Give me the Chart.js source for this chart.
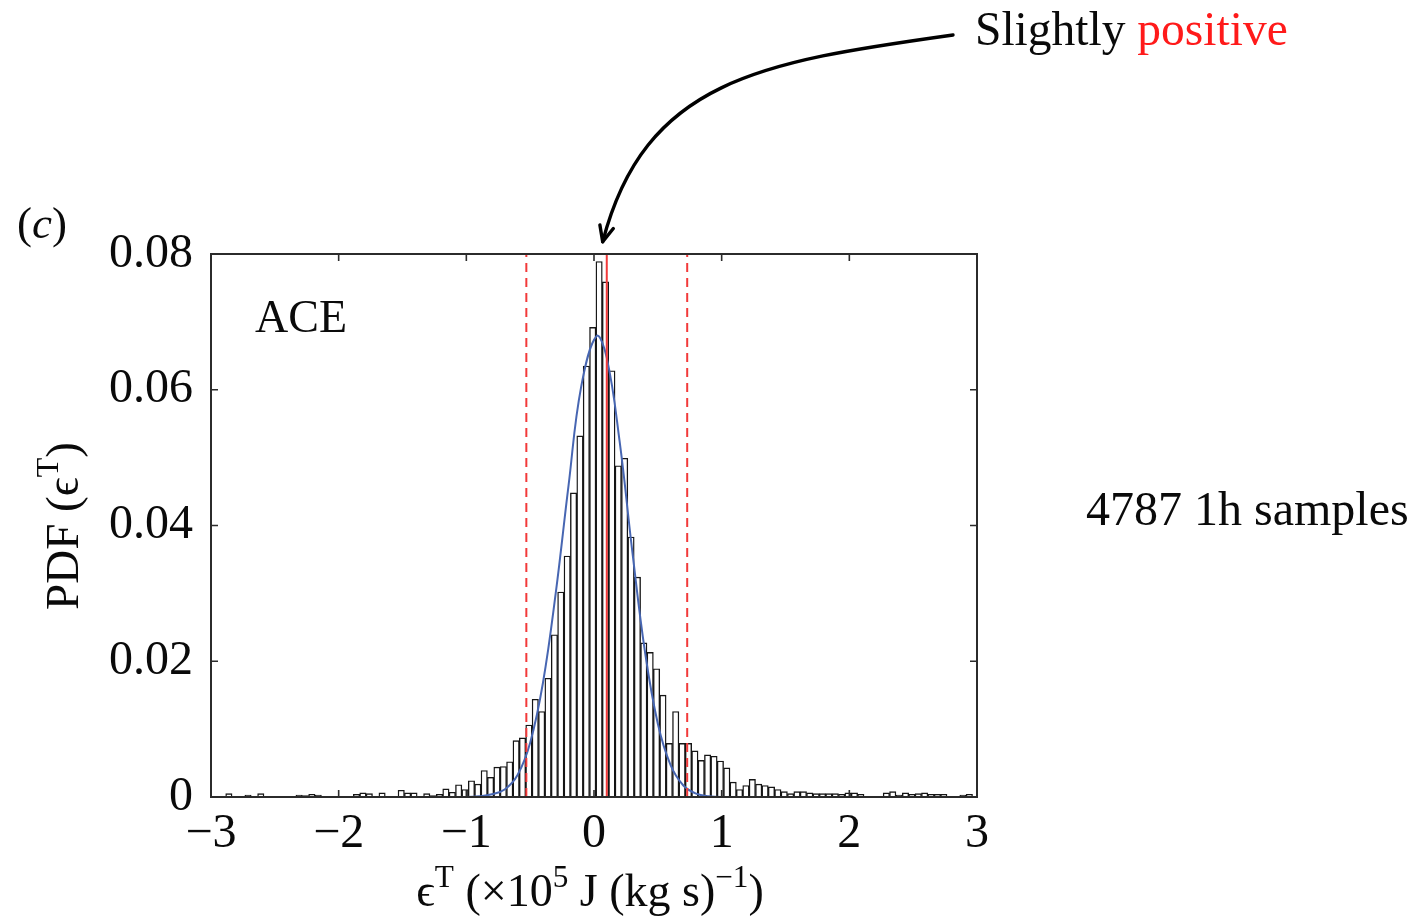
<!DOCTYPE html>
<html><head><meta charset="utf-8">
<script src="https://cdn.jsdelivr.net/npm/chart.js@4.4.1/dist/chart.umd.min.js"></script>
<style>html,body{margin:0;padding:0;background:#fff;} #wrap{width:1421px;height:921px;}</style>
</head><body><div id="wrap"><canvas id="c" width="1421" height="921"></canvas></div>
<script>
// ---- data ----
const binStart = -2.985;   // left edge of first histogram bin
const binWidth = 0.05;     // histogram bin width
const pdfValues = [
  0, 0, 0.0005, 0, 0, 0.0003, 0, 0.0005, 0, 0,
  0, 0, 0, 0.0003, 0.0002, 0.0004, 0.0003, 0, 0, 0.0001,
  0, 0, 0.0004, 0.0006, 0.0005, 0, 0.0006, 0, 0, 0.0010,
  0.0006, 0.0006, 0, 0.0005, 0.0002, 0.0004, 0.0012, 0.0007, 0.0018, 0.0011,
  0.0024, 0.0019, 0.0039, 0.0029, 0.0044, 0.0045, 0.0052, 0.0083, 0.0087, 0.0106,
  0.0144, 0.0126, 0.0175, 0.0239, 0.0302, 0.0355, 0.0448, 0.0532, 0.0635, 0.0692,
  0.0789, 0.0759, 0.0628, 0.0488, 0.0499, 0.0383, 0.0324, 0.0227, 0.0213, 0.0189,
  0.0150, 0.0079, 0.0126, 0.0079, 0.0079, 0.0068, 0.0054, 0.0062, 0.0060, 0.0053,
  0.0043, 0.0022, 0.0011, 0.0017, 0.0026, 0.0019, 0.0017, 0.0015, 0.0011, 0.0008,
  0.0005, 0.0008, 0.0008, 0.0006, 0.0005, 0.0005, 0.0005, 0.0005, 0.0004, 0.0006,
  0.0006, 0.0004, 0, 0, 0, 0.0006, 0.0008, 0.0003, 0.0006, 0.0004,
  0.0005, 0.0006, 0.0004, 0.0004, 0.0004, 0, 0, 0.0003, 0.0004
];
const fitX = [-3, -1, -0.9, -0.8, -0.7, -0.6, -0.5, -0.4, -0.3, -0.2, -0.1, 0.02, 0.1, 0.2, 0.3, 0.4, 0.5, 0.6, 0.7, 0.8, 0.9, 1.0, 3];
const fitY = [0, 0, 0.0001, 0.0004, 0.0011, 0.0032, 0.0080, 0.0168, 0.0300, 0.0458, 0.0605, 0.0679, 0.0647, 0.0525, 0.0362, 0.0213, 0.0108, 0.0047, 0.0017, 0.0005, 0.0001, 0, 0];
const meanValue = 0.1;
const bandValues = [-0.53, 0.73];
const xTickValues = [-3, -2, -1, 0, 1, 2, 3];
const xTickLabels = ['\u22123', '\u22122', '\u22121', '0', '1', '2', '3'];
const yTickValues = [0, 0.02, 0.04, 0.06, 0.08];
const yTickLabels = ['0', '0.02', '0.04', '0.06', '0.08'];
const yMin = 0, yMax = 0.08, xMin = -3, xMax = 3;

const FONT = '"Liberation Serif", "Times New Roman", "DejaVu Serif", serif';
const RED = '#f23a3a';
const BLUE = '#4766b2';
const INK = '#0a0a0a';

function drawRich(ctx, parts, x, y, size, align) {
  const items = parts.map(p => {
    const fs = p.sup ? size * 0.68 : size;
    const font = (p.italic ? 'italic ' : '') + fs + 'px ' + FONT;
    ctx.font = font;
    return { p, font, w: ctx.measureText(p.t).width };
  });
  const total = items.reduce((a, b) => a + b.w, 0);
  let cx = align === 'center' ? x - total / 2 : x;
  ctx.textAlign = 'left';
  ctx.textBaseline = 'alphabetic';
  for (const it of items) {
    ctx.font = it.font;
    ctx.fillStyle = it.p.color || INK;
    ctx.fillText(it.p.t, cx, y - (it.p.sup ? size * 0.42 : 0));
    cx += it.w;
  }
}

const decorPlugin = {
  id: 'decor',
  afterDatasetsDraw(chart) {
    const ctx = chart.ctx, a = chart.chartArea;
    const xs = chart.scales.x, ys = chart.scales.y;
    ctx.save();
    ctx.strokeStyle = '#2b2b2b';
    ctx.lineWidth = 2;
    ctx.strokeRect(a.left, a.top, a.right - a.left, a.bottom - a.top);
    ctx.lineWidth = 1.6;
    const tl = 7;
    ctx.beginPath();
    xTickValues.forEach(v => {
      const px = xs.getPixelForValue(v);
      ctx.moveTo(px, a.bottom); ctx.lineTo(px, a.bottom - tl);
      ctx.moveTo(px, a.top); ctx.lineTo(px, a.top + tl);
    });
    yTickValues.forEach(v => {
      const py = ys.getPixelForValue(v);
      ctx.moveTo(a.left, py); ctx.lineTo(a.left + tl, py);
      ctx.moveTo(a.right, py); ctx.lineTo(a.right - tl, py);
    });
    ctx.stroke();
    ctx.restore();
  },
  afterDraw(chart) {
    const ctx = chart.ctx;
    const xs = chart.scales.x, ys = chart.scales.y;
    ctx.save();
    drawRich(ctx, [{ t: '(' }, { t: 'c', italic: true }, { t: ')' }], 17, 238, 45, 'left');
    drawRich(ctx, [{ t: 'ACE' }], 255, 332, 46, 'left');
    drawRich(ctx, [
      { t: '\u03F5' }, { t: 'T', sup: true }, { t: ' (\u00D710' }, { t: '5', sup: true },
      { t: ' J (kg s)' }, { t: '\u22121', sup: true }, { t: ')' }
    ], 590, 906, 46, 'center');
    ctx.save();
    ctx.translate(78, 526);
    ctx.rotate(-Math.PI / 2);
    drawRich(ctx, [{ t: 'PDF (\u03F5' }, { t: 'T', sup: true }, { t: ')' }], 0, 0, 47, 'center');
    ctx.restore();
    drawRich(ctx, [{ t: 'Slightly ' }, { t: 'positive', color: '#ff1a1a' }], 975, 45, 47.5, 'left');
    drawRich(ctx, [{ t: '4787 1h samples' }], 1086, 525, 48, 'left');
    const tipX = xs.getPixelForValue(0.068), tipY = ys.getPixelForValue(0.0818);
    const p0 = [953, 35], c1 = [760, 62], c2 = [645, 80];
    ctx.strokeStyle = '#000';
    ctx.lineWidth = 3.4;
    ctx.lineCap = 'round';
    ctx.beginPath();
    ctx.moveTo(p0[0], p0[1]);
    ctx.bezierCurveTo(c1[0], c1[1], c2[0], c2[1], tipX, tipY);
    ctx.stroke();
    const dx = c2[0] - tipX, dy = c2[1] - tipY, len = Math.hypot(dx, dy);
    const ux = dx / len, uy = dy / len, hl = 17, ang = 0.42;
    ctx.beginPath();
    for (const s of [-1, 1]) {
      const ca = Math.cos(s * ang), sa = Math.sin(s * ang);
      const rx = ux * ca - uy * sa, ry = ux * sa + uy * ca;
      ctx.moveTo(tipX, tipY);
      ctx.lineTo(tipX + rx * hl, tipY + ry * hl);
    }
    ctx.stroke();
    ctx.restore();
  }
};

const barData = pdfValues.map((v, i) => ({ x: binStart + binWidth * (i + 0.5), y: v }));
const fitData = fitX.map((x, i) => ({ x: x, y: fitY[i] }));
const vline = v => [{ x: v, y: yMin }, { x: v, y: yMax }];

new Chart(document.getElementById('c'), {
  type: 'bar',
  data: {
    datasets: [
      { type: 'line', data: vline(meanValue), borderColor: RED, borderWidth: 2, pointRadius: 0, order: 1 },
      { type: 'line', data: vline(bandValues[0]), borderColor: RED, borderWidth: 2, borderDash: [9, 6], pointRadius: 0, order: 1 },
      { type: 'line', data: vline(bandValues[1]), borderColor: RED, borderWidth: 2, borderDash: [9, 6], pointRadius: 0, order: 1 },
      { type: 'line', data: fitData, borderColor: BLUE, borderWidth: 2, pointRadius: 0, tension: 0.4, order: 2 },
      { type: 'bar', data: barData, backgroundColor: '#ffffff', borderColor: '#151515', borderWidth: 1.4,
        barPercentage: 1, categoryPercentage: 1, order: 3 }
    ]
  },
  options: {
    responsive: false,
    animation: false,
    devicePixelRatio: 1,
    layout: { padding: { left: 0, top: 254, right: 444, bottom: 0 } },
    plugins: { legend: { display: false }, tooltip: { enabled: false } },
    scales: {
      x: {
        type: 'linear', min: xMin, max: xMax, offset: false,
        grid: { display: false, drawTicks: false }, border: { display: false },
        afterBuildTicks: s => { s.ticks = xTickValues.map(v => ({ value: v })); },
        afterFit: s => { s.height = 124; },
        ticks: { font: { family: FONT, size: 48 }, color: INK, padding: 9, maxRotation: 0, autoSkip: false,
                 callback: (v, i) => xTickLabels[i] }
      },
      y: {
        type: 'linear', min: yMin, max: yMax,
        grid: { display: false, drawTicks: false }, border: { display: false },
        afterBuildTicks: s => { s.ticks = yTickValues.map(v => ({ value: v })); },
        afterFit: s => { s.width = 211; },
        ticks: { font: { family: FONT, size: 48 }, color: INK, padding: 18, autoSkip: false,
                 callback: (v, i) => yTickLabels[i] }
      }
    }
  },
  plugins: [decorPlugin]
});
</script>
</body></html>
